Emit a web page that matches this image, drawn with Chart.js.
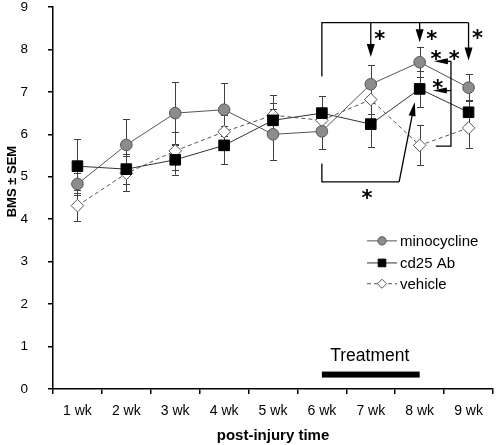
<!DOCTYPE html>
<html><head><meta charset="utf-8">
<script src="https://cdn.jsdelivr.net/npm/chart.js@4/dist/chart.umd.min.js"></script>
<style>html,body{margin:0;padding:0;background:#fff;} #wrap{width:496px;height:445px;}</style>
</head><body><div id="wrap"><canvas id="c" width="496" height="445"></canvas></div>
<script>
const categories = ['1 wk','2 wk','3 wk','4 wk','5 wk','6 wk','7 wk','8 wk','9 wk'];
const minocycline    = [4.83, 5.75, 6.50, 6.58, 6.00, 6.07, 7.18, 7.70, 7.10];
const minocyclineSem = [0.25, 0.60, 0.73, 0.63, 0.60, 0.42, 0.45, 0.36, 0.32];
const cd25Ab         = [5.25, 5.18, 5.40, 5.74, 6.33, 6.50, 6.24, 7.07, 6.52];
const cd25AbSem      = [0.63, 0.35, 0.35, 0.45, 0.42, 0.40, 0.55, 0.43, 0.30];
const vehicle        = [4.32, 5.08, 5.61, 6.06, 6.45, 6.33, 6.82, 5.74, 6.15];
const vehicleSem     = [0.37, 0.42, 0.44, 0.40, 0.47, 0.30, 0.35, 0.47, 0.47];
const seriesNames = ['minocycline', 'cd25 Ab', 'vehicle'];
const yTickValues = [0,1,2,3,4,5,6,7,8,9];
const yTitle = 'BMS \u00b1 SEM';
const xTitle = 'post-injury time';
const treatmentLabel = 'Treatment';

const FONT = '"Liberation Sans", Arial, sans-serif';
const semBySeries = [minocyclineSem, cd25AbSem, vehicleSem];

const errorBars = {
  id: 'errorBars',
  beforeDatasetsDraw(chart) {
    const ctx = chart.ctx, y = chart.scales.y;
    ctx.save();
    ctx.strokeStyle = '#404040';
    ctx.lineWidth = 1;
    chart.data.datasets.forEach((ds, i) => {
      const meta = chart.getDatasetMeta(i);
      const sem = semBySeries[i];
      meta.data.forEach((pt, j) => {
        const v = ds.data[j], e = sem[j];
        const x = Math.round(pt.x) + 0.5;
        const yt = y.getPixelForValue(v + e), yb = y.getPixelForValue(v - e);
        ctx.beginPath();
        ctx.moveTo(x, yt); ctx.lineTo(x, yb);
        ctx.moveTo(x - 3.5, Math.round(yt) + 0.5); ctx.lineTo(x + 3.5, Math.round(yt) + 0.5);
        ctx.moveTo(x - 3.5, Math.round(yb) + 0.5); ctx.lineTo(x + 3.5, Math.round(yb) + 0.5);
        ctx.stroke();
      });
    });
    ctx.restore();
  }
};

function arrowHead(ctx, x1, y1, x2, y2, len, half) {
  const a = Math.atan2(y2 - y1, x2 - x1);
  ctx.beginPath();
  ctx.moveTo(x2, y2);
  ctx.lineTo(x2 - len * Math.cos(a) + half * Math.sin(a), y2 - len * Math.sin(a) - half * Math.cos(a));
  ctx.lineTo(x2 - len * Math.cos(a) - half * Math.sin(a), y2 - len * Math.sin(a) + half * Math.cos(a));
  ctx.closePath();
  ctx.fill();
}
function arrow(ctx, x1, y1, x2, y2, len, half) {
  const a = Math.atan2(y2 - y1, x2 - x1);
  ctx.beginPath();
  ctx.moveTo(x1, y1);
  ctx.lineTo(x2 - len * 0.8 * Math.cos(a), y2 - len * 0.8 * Math.sin(a));
  ctx.stroke();
  arrowHead(ctx, x1, y1, x2, y2, len, half);
}

const annotations = {
  id: 'annotations',
  afterDraw(chart) {
    const ctx = chart.ctx, xs = chart.scales.x, ys = chart.scales.y, ca = chart.chartArea;
    const X = i => xs.getPixelForValue(i), Y = v => ys.getPixelForValue(v);
    ctx.save();
    ctx.strokeStyle = '#000'; ctx.fillStyle = '#000'; ctx.lineWidth = 1.3;
    // top bracket
    ctx.beginPath();
    ctx.moveTo(X(5), Y(7.36)); ctx.lineTo(X(5), Y(8.63)); ctx.lineTo(X(8), Y(8.63));
    ctx.stroke();
    arrow(ctx, X(6), Y(8.63), X(6), Y(7.82), 13, 4);
    arrow(ctx, X(7), Y(8.63), X(7), Y(8.17), 13, 4);
    arrow(ctx, X(8), Y(8.63), X(8), Y(7.74), 13, 4);
    // bottom bracket
    ctx.beginPath();
    ctx.moveTo(X(5), Y(5.31)); ctx.lineTo(X(5), Y(4.88)); ctx.lineTo(X(6.58), Y(4.88));
    ctx.stroke();
    arrow(ctx, X(6.58), Y(4.88), X(6.9), Y(6.76), 14, 3.5);
    // right bracket
    ctx.beginPath();
    ctx.moveTo(X(7.64), Y(7.72)); ctx.lineTo(X(7.64), Y(5.72)); ctx.lineTo(X(7.33), Y(5.72));
    ctx.stroke();
    arrow(ctx, X(7.64), Y(7.72), X(7.29), Y(7.72), 14, 3);
    arrow(ctx, X(7.64), Y(7.03), X(7.27), Y(7.03), 14, 3);
    // stars
    const SZ = 21;
    ctx.font = 'bold ' + SZ + 'px "DejaVu Sans", sans-serif';
    ctx.textAlign = 'center'; ctx.textBaseline = 'alphabetic';
    const star = (t, x, y) => ctx.fillText(t, x, y + 0.6 * SZ);
    star('*', X(6) + 9, Y(8.37));
    star('*', X(7) + 12, Y(8.37));
    star('*', X(8) + 9, Y(8.39));
    star('* *', X(7.52), Y(7.91));
    star('*', X(7.37), Y(7.22));
    star('*', X(5.92), Y(4.63));
    // treatment bar
    ctx.fillRect(X(5), Y(0.34) - 3, X(7) - X(5), 6);
    ctx.font = '17.5px ' + FONT;
    ctx.textAlign = 'center'; ctx.textBaseline = 'middle';
    ctx.fillText(treatmentLabel, X(5.98), Y(0.78));
    // y title
    ctx.save();
    ctx.translate(12, ca.top + (ca.bottom - ca.top) * 0.457);
    ctx.rotate(-Math.PI / 2);
    ctx.font = 'bold 13px ' + FONT;
    ctx.textAlign = 'center'; ctx.textBaseline = 'middle';
    ctx.fillText(yTitle, 0, 0);
    ctx.restore();
    // legend
    const lx = ca.right - 126;
    const rows = [Y(3.49), Y(2.97), Y(2.48)];
    chart.data.datasets.forEach((ds, i) => {
      const yy = rows[i];
      ctx.save();
      ctx.strokeStyle = ds.borderColor; ctx.lineWidth = 1;
      ctx.setLineDash(ds.borderDash || []);
      ctx.beginPath(); ctx.moveTo(lx, yy); ctx.lineTo(lx + 30, yy); ctx.stroke();
      ctx.restore();
      ctx.save();
      ctx.fillStyle = ds.pointBackgroundColor; ctx.strokeStyle = ds.pointBorderColor; ctx.lineWidth = 1;
      Chart.helpers.drawPoint(ctx, {pointStyle: ds.pointStyle, radius: ds.pointRadius * 0.72, borderWidth: 1}, lx + 15, yy);
      ctx.restore();
      ctx.font = '15px ' + FONT; ctx.fillStyle = '#000';
      ctx.textAlign = 'left'; ctx.textBaseline = 'middle';
      ctx.fillText(seriesNames[i], lx + 33, yy + 1);
    });
    ctx.restore();
  }
};

new Chart(document.getElementById('c'), {
  type: 'line',
  data: {
    labels: categories,
    datasets: [
      { label: seriesNames[0], data: minocycline, borderColor: '#555', borderWidth: 1,
        pointStyle: 'circle', pointRadius: 5.8, pointBackgroundColor: '#8c8c8c',
        pointBorderColor: '#555', pointBorderWidth: 1, tension: 0 },
      { label: seriesNames[1], data: cd25Ab, borderColor: '#333', borderWidth: 1,
        pointStyle: 'rect', pointRadius: 7.5, pointBackgroundColor: '#000',
        pointBorderColor: '#000', pointBorderWidth: 1, tension: 0 },
      { label: seriesNames[2], data: vehicle, borderColor: '#555', borderWidth: 1, borderDash: [4, 3],
        pointStyle: 'rectRot', pointRadius: 6.3, pointBackgroundColor: '#fff',
        pointBorderColor: '#555', pointBorderWidth: 1, tension: 0 }
    ]
  },
  options: {
    responsive: false, animation: false, devicePixelRatio: 1,
    layout: { autoPadding: false, padding: { top: 7, right: 3, left: 0, bottom: 0 } },
    plugins: { legend: { display: false }, tooltip: { enabled: false } },
    scales: {
      x: {
        type: 'category', offset: true,
        grid: { display: true, drawOnChartArea: false, offset: true, tickLength: 5, color: '#000', lineWidth: 1.5 },
        border: { color: '#000', width: 1.5 },
        ticks: { color: '#000', font: { size: 14, family: FONT }, padding: 9, maxRotation: 0, autoSkip: false },
        title: { display: true, text: xTitle, color: '#000', font: { size: 15, weight: 'bold', family: FONT }, padding: { top: 2, bottom: 0 } },
        afterFit(s) { s.height = 56; s.paddingLeft = 0; s.paddingRight = 0; }
      },
      y: {
        min: 0, max: 9,
        afterBuildTicks(s) { s.ticks = yTickValues.map(v => ({ value: v })); },
        grid: { display: true, drawOnChartArea: false, tickLength: 5, color: '#000', lineWidth: 1.5 },
        border: { color: '#000', width: 1.5 },
        ticks: { color: '#000', font: { size: 13.5, family: FONT }, padding: 20 },
        afterFit(s) { s.width = 53; s.paddingTop = 0; s.paddingBottom = 0; }
      }
    }
  },
  plugins: [errorBars, annotations]
});
</script>
</body></html>
